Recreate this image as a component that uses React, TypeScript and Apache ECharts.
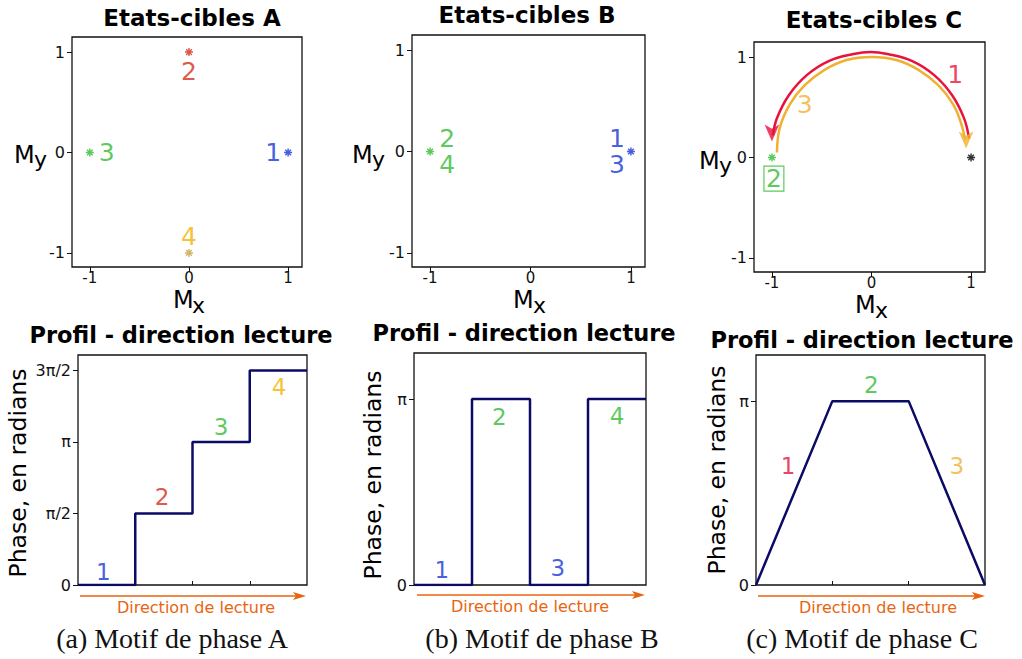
import React, { useEffect, useRef } from "react";
import * as echarts from "echarts";

const PI = Math.PI;

// ---------- top panels : target states (Mx, My) ----------
const ticksM = [-1, 0, 1];
const statesA = [
  { name: "1", x: 1, y: 0, color: "#1536d6" },
  { name: "2", x: 0, y: 1, color: "#d42c1c" },
  { name: "3", x: -1, y: 0, color: "#33bb33" },
  { name: "4", x: 0, y: -1, color: "#c8a040" },
];
const labelsTopA = [
  { name: "1", x: 0.85, y: 0, color: "#1536d6" },
  { name: "2", x: 0, y: 0.81, color: "#d42c1c" },
  { name: "3", x: -0.83, y: 0, color: "#33bb33" },
  { name: "4", x: 0, y: -0.84, color: "#f2b300" },
];
const statesB = [
  { name: "1,3", x: 1, y: 0, color: "#1536d6" },
  { name: "2,4", x: -1, y: 0, color: "#33bb33" },
];
const labelsTopB = [
  { name: "2", x: -0.83, y: 0.13, color: "#33bb33" },
  { name: "4", x: -0.83, y: -0.13, color: "#33bb33" },
  { name: "1", x: 0.86, y: 0.13, color: "#1536d6" },
  { name: "3", x: 0.86, y: -0.13, color: "#1536d6" },
];
const statesC = [
  { name: "2", x: -1, y: 0, color: "#33bb33" },
  { name: "0", x: 1, y: 0, color: "#000000" },
];
const arcRed = [
  [0.98, 0.19], [0.93, 0.39], [0.81, 0.62], [0.63, 0.82], [0.41, 0.96], [0.16, 1.03],
  [-0.01, 1.05], [-0.18, 1.03], [-0.43, 0.96], [-0.65, 0.82], [-0.83, 0.62], [-0.95, 0.39],
  [-0.99, 0.22],
];
const arcOrange = [
  [-0.95, 0.05], [-0.92, 0.3], [-0.82, 0.53], [-0.67, 0.72], [-0.475, 0.87], [-0.25, 0.97],
  [0, 1.0], [0.25, 0.97], [0.475, 0.87], [0.67, 0.72], [0.82, 0.53], [0.9, 0.34], [0.94, 0.18],
];
const arrowRed = [-1.0, 0.16];
const arrowOrange = [0.95, 0.09];
const labelsTopC = [
  { name: "1", x: 0.84, y: 0.83, color: "#e8123c" },
  { name: "3", x: -0.67, y: 0.53, color: "#f0b030" },
];
const boxedC = { name: "2", x: -0.98, y: -0.21, color: "#33bb33" };

// ---------- bottom panels : phase profiles ----------
const profileA = [[0, 0], [1, PI / 2], [2, PI], [3, (3 * PI) / 2], [4, (3 * PI) / 2]];
const profileB = [[0, 0], [1, PI], [2, 0], [3, PI], [4, PI]];
const profileC = [[0, 0], [1, PI], [2, PI], [3, 0]];
const phaseTicksA = [0, PI / 2, PI, (3 * PI) / 2];
const phaseLabelsA = ["0", "π/2", "π", "3π/2"];
const phaseTicksBC = [0, PI];
const phaseLabelsBC = ["0", "π"];
const labelsBotA = [
  { name: "1", x: 0.44, y: 0.28, color: "#1536d6" },
  { name: "2", x: 1.47, y: 1.93, color: "#d42c1c" },
  { name: "3", x: 2.5, y: 3.47, color: "#33bb33" },
  { name: "4", x: 3.51, y: 4.35, color: "#f2b300" },
];
const labelsBotB = [
  { name: "1", x: 0.48, y: 0.25, color: "#1536d6" },
  { name: "2", x: 1.47, y: 2.84, color: "#33bb33" },
  { name: "3", x: 2.48, y: 0.29, color: "#1536d6" },
  { name: "4", x: 3.5, y: 2.85, color: "#33bb33" },
];
const labelsBotC = [
  { name: "1", x: 0.42, y: 2.03, color: "#e8123c" },
  { name: "2", x: 1.51, y: 3.41, color: "#33bb33" },
  { name: "3", x: 2.63, y: 2.03, color: "#f0b030" },
];

const ASTERISK =
  "path://M-0.9,-5L0.9,-5L0.9,5L-0.9,5Z M-5,-0.9L5,-0.9L5,0.9L-5,0.9Z " +
  "M-4.18,-2.9L-2.9,-4.18L4.18,2.9L2.9,4.18Z M-2.9,4.18L-4.18,2.9L2.9,-4.18L4.18,-2.9Z";

const SANS = "DejaVu Sans";
const NAVY = "#0b0b66";
const ORANGE_DIR = "#e8650f";

function textSeries(idx: number, items: any[], size: number) {
  return {
    type: "scatter",
    xAxisIndex: idx,
    yAxisIndex: idx,
    symbolSize: 1,
    itemStyle: { color: "rgba(0,0,0,0)" },
    z: 5,
    data: items.map((d) => ({
      name: d.name,
      value: [d.x, d.y],
      label: { color: d.color },
    })),
    label: {
      show: true,
      position: "inside",
      formatter: "{b}",
      fontSize: size,
      fontFamily: SANS,
    },
  };
}

function pointSeries(idx: number, items: any[]) {
  return {
    type: "scatter",
    xAxisIndex: idx,
    yAxisIndex: idx,
    symbol: ASTERISK,
    symbolSize: 8,
    data: items.map((d) => ({ name: d.name, value: [d.x, d.y], itemStyle: { color: d.color } })),
  };
}

export default function App() {
  const ref = useRef<HTMLDivElement>(null);
  useEffect(() => {
    document.body.style.margin = "0";
    const chart = echarts.init(ref.current!, undefined, { renderer: "svg" });

    const grids = [
      { left: 72, top: 37, width: 230, height: 230 },
      { left: 412, top: 35, width: 233, height: 232 },
      { left: 754, top: 42, width: 231, height: 230 },
      { left: 78, top: 355, width: 229, height: 230 },
      { left: 414, top: 353, width: 232, height: 232 },
      { left: 756, top: 355, width: 229, height: 230 },
    ].map((g) => ({ ...g, show: true, borderColor: "#111", borderWidth: 1.3, containLabel: false }));

    const tickLabel = { fontSize: 16, color: "#111", fontFamily: SANS };

    const xAxes: any[] = [];
    const yAxes: any[] = [];
    for (let i = 0; i < 3; i++) {
      xAxes.push({
        gridIndex: i, type: "value", min: -1.18, max: 1.14,
        axisLine: { show: false, onZero: false }, splitLine: { show: false },
        axisTick: { show: true, customValues: ticksM, length: 5, lineStyle: { color: "#111" } },
        axisLabel: { ...tickLabel, fontSize: 15, lineHeight: 15, customValues: ticksM, margin: 3 },
      });
      yAxes.push({
        gridIndex: i, type: "value", min: -1.14, max: 1.15,
        axisLine: { show: false, onZero: false }, splitLine: { show: false },
        axisTick: { show: true, customValues: ticksM, length: 5, lineStyle: { color: "#111" } },
        axisLabel: { ...tickLabel, customValues: ticksM, margin: 7 },
      });
    }
    const botX = [4, 4, 3];
    const botXT = [[1, 2, 3], [1, 2, 3], [1, 2]];
    const botYMax = [5.05, 3.92, 3.93];
    const botYT = [phaseTicksA, phaseTicksBC, phaseTicksBC];
    const botYL = [phaseLabelsA, phaseLabelsBC, phaseLabelsBC];
    for (let k = 0; k < 3; k++) {
      const i = k + 3;
      xAxes.push({
        gridIndex: i, type: "value", min: 0, max: botX[k],
        axisLine: { show: false, onZero: false }, splitLine: { show: false },
        axisTick: { show: true, inside: true, customValues: botXT[k], length: 4, lineStyle: { color: "#111" } },
        axisLabel: { show: false },
      });
      const tv = botYT[k];
      const tl = botYL[k];
      yAxes.push({
        gridIndex: i, type: "value", min: 0, max: botYMax[k],
        axisLine: { show: false, onZero: false }, splitLine: { show: false },
        axisTick: { show: true, customValues: tv, length: 5, lineStyle: { color: "#111" } },
        axisLabel: {
          ...tickLabel, customValues: tv, margin: 7,
          formatter: (v: number) => {
            let best = 0;
            for (let j = 0; j < tv.length; j++) if (Math.abs(tv[j] - v) < Math.abs(tv[best] - v)) best = j;
            return tl[best];
          },
        },
      });
    }

    const series: any[] = [
      pointSeries(0, statesA),
      textSeries(0, labelsTopA, 25),
      pointSeries(1, statesB),
      textSeries(1, labelsTopB, 25),
      {
        type: "line", xAxisIndex: 2, yAxisIndex: 2, data: arcRed, smooth: 0.4, showSymbol: false,
        lineStyle: { color: "#e8123c", width: 2.5 }, z: 3,
      },
      {
        type: "line", xAxisIndex: 2, yAxisIndex: 2, data: arcOrange, smooth: 0.4, showSymbol: false,
        lineStyle: { color: "#f0b030", width: 2.5 }, z: 3,
      },
      {
        type: "scatter", xAxisIndex: 2, yAxisIndex: 2, symbol: "arrow", symbolRotate: 180,
        symbolSize: [11, 17], z: 4,
        data: [
          { value: arrowRed, itemStyle: { color: "#e8123c" } },
          { value: arrowOrange, itemStyle: { color: "#f0b030" } },
        ],
      },
      pointSeries(2, statesC),
      textSeries(2, labelsTopC, 25),
      {
        type: "scatter", xAxisIndex: 2, yAxisIndex: 2, symbolSize: 1,
        itemStyle: { color: "rgba(0,0,0,0)" },
        data: [{ name: boxedC.name, value: [boxedC.x, boxedC.y] }],
        label: {
          show: true, position: "inside", formatter: "{b}", fontSize: 25, fontFamily: SANS,
          color: boxedC.color, borderColor: boxedC.color, borderWidth: 1.2, padding: [1, 2, -1, 2],
        },
      },
      {
        type: "line", xAxisIndex: 3, yAxisIndex: 3, data: profileA, step: "end", showSymbol: false,
        lineStyle: { color: NAVY, width: 2.5 },
      },
      textSeries(3, labelsBotA, 23),
      {
        type: "line", xAxisIndex: 4, yAxisIndex: 4, data: profileB, step: "end", showSymbol: false,
        lineStyle: { color: NAVY, width: 2.5 },
      },
      textSeries(4, labelsBotB, 23),
      {
        type: "line", xAxisIndex: 5, yAxisIndex: 5, data: profileC, showSymbol: false,
        lineStyle: { color: NAVY, width: 2.5 },
      },
      textSeries(5, labelsBotC, 23),
    ];

    const title = (x: number, y: number, t: string, size: number) => ({
      type: "text", x, y,
      style: { text: t, font: `bold ${size}px "${SANS}"`, fill: "#000", align: "center", verticalAlign: "middle" },
    });
    const plain = (x: number, y: number, t: string, size: number, align = "left", fill = "#000") => ({
      type: "text", x, y,
      style: { text: t, font: `${size}px "${SANS}"`, fill, align, verticalAlign: "middle" },
    });
    const vlabel = (x: number, y: number) => ({
      type: "text", x, y, rotation: Math.PI / 2,
      style: { text: "Phase, en radians", font: `23.5px "${SANS}"`, fill: "#000", align: "center", verticalAlign: "middle" },
    });
    const dir = (x1: number, x2: number, y: number, cx: number) => [
      { type: "line", shape: { x1, y1: y, x2: x2 - 6, y2: y }, style: { stroke: ORANGE_DIR, lineWidth: 1.5 } },
      {
        type: "polygon",
        shape: { points: [[x2 - 13, y - 4], [x2, y], [x2 - 13, y + 4], [x2 - 10, y]] },
        style: { fill: ORANGE_DIR },
      },
      plain(cx, y + 11, "Direction de lecture", 16, "center", ORANGE_DIR),
    ];
    const caption = (x: number, y: number, t: string) => ({
      type: "text", x, y,
      style: { text: t, font: `28px "Liberation Serif"`, fill: "#111", align: "center", verticalAlign: "middle" },
    });

    const graphic: any[] = [
      title(192, 18, "Etats-cibles A", 23),
      title(527, 15, "Etats-cibles B", 23),
      title(874, 20, "Etats-cibles C", 23),
      title(181, 335, "Profil - direction lecture", 22.5),
      title(524, 333, "Profil - direction lecture", 22.5),
      title(862, 340, "Profil - direction lecture", 22.5),
      plain(14, 155, "M", 24), plain(34, 159, "y", 22),
      plain(352, 155, "M", 24), plain(372, 159, "y", 22),
      plain(699, 161, "M", 24), plain(719, 165, "y", 22),
      plain(173, 300, "M", 24), plain(192, 305, "x", 22),
      plain(513, 300, "M", 24), plain(533, 305, "x", 22),
      plain(855, 305, "M", 24), plain(875, 310, "x", 22),
      vlabel(18, 473), vlabel(373, 475), vlabel(717, 470),
      ...dir(80, 306, 596, 196),
      ...dir(417, 645, 595, 530),
      ...dir(758, 985, 596, 878),
      caption(172, 638, "(a) Motif de phase A"),
      caption(542, 638, "(b) Motif de phase B"),
      caption(862, 638, "(c) Motif de phase C"),
    ];

    chart.setOption({
      animation: false,
      backgroundColor: "#fff",
      grid: grids,
      xAxis: xAxes,
      yAxis: yAxes,
      series,
      graphic,
    });
    return () => chart.dispose();
  }, []);
  return <div ref={ref} style={{ width: 1022, height: 659 }} />;
}
